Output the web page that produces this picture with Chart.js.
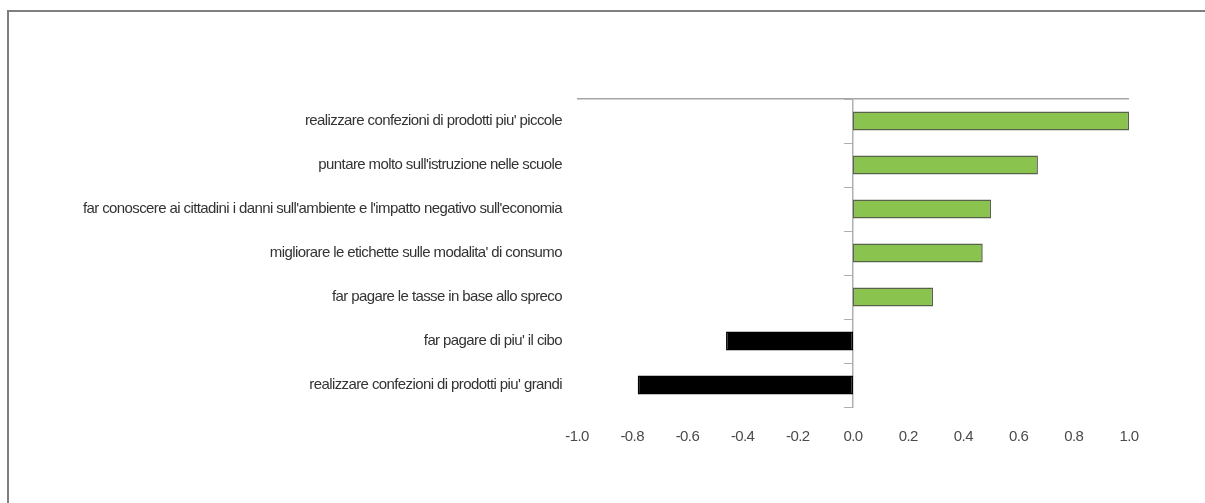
<!DOCTYPE html>
<html>
<head>
<meta charset="utf-8">
<script src="https://cdn.jsdelivr.net/npm/chart.js@4/dist/chart.umd.min.js"></script>
<style>
  html, body { margin: 0; padding: 0; background: #fff; overflow: hidden; }
  #frame { position: absolute; left: 7px; top: 10px; width: 1300px; height: 600px;
           border-top: 2px solid #7f7f7f; border-left: 2px solid #7f7f7f; }
  #wrap { position: absolute; left: 0; top: 0; width: 1205px; height: 503px; }
</style>
</head>
<body>
<div id="frame"></div>
<div id="wrap"><canvas id="chart" width="1205" height="503"></canvas></div>
<script>
// Strategie contro lo spreco alimentare: punteggio medio (-1 … 1)
const categories = [
  "realizzare confezioni di prodotti piu' piccole",
  "puntare molto sull'istruzione nelle scuole",
  "far conoscere ai cittadini i danni sull'ambiente e l'impatto negativo sull'economia",
  "migliorare le etichette sulle modalita' di consumo",
  "far pagare le tasse in base allo spreco",
  "far pagare di piu' il cibo",
  "realizzare confezioni di prodotti piu' grandi"
];
const scores = [1.00, 0.67, 0.50, 0.47, 0.29, -0.46, -0.78];
const xTicks = [-1.0, -0.8, -0.6, -0.4, -0.2, 0.0, 0.2, 0.4, 0.6, 0.8, 1.0];

const green = '#8bc34f';
const greenEdge = '#566349';

// Tight letter spacing for the compact label typeface
const tightText = {
  id: 'tightText',
  beforeUpdate: c => { c.ctx.letterSpacing = '-0.6px'; },
  beforeDraw: c => { c.ctx.letterSpacing = '-0.6px'; }
};

new Chart(document.getElementById('chart'), {
  type: 'bar',
  plugins: [tightText],
  data: {
    labels: categories,
    datasets: [{
      data: scores,
      backgroundColor: scores.map(v => v >= 0 ? green : '#000000'),
      borderColor: scores.map(v => v >= 0 ? greenEdge : '#000000'),
      borderWidth: 1.5,
      borderSkipped: false,
      categoryPercentage: 1,
      barPercentage: 0.43
    }]
  },
  options: {
    indexAxis: 'y',
    responsive: false,
    animation: false,
    layout: { padding: { left: 0, right: 76, top: 99, bottom: 56 } },
    plugins: { legend: { display: false }, tooltip: { enabled: false } },
    scales: {
      x: {
        type: 'linear',
        min: -1, max: 1,
        afterBuildTicks: s => { s.ticks = xTicks.map(v => ({ value: v })); },
        afterFit: s => { s.height = 40; },
        border: { display: false },
        grid: { display: false, drawTicks: false },
        ticks: {
          padding: 21,
          color: '#4a4a4a',
          font: { family: '"Liberation Sans Narrow", "Liberation Sans", sans-serif', size: 15 },
          callback: v => Number(v).toFixed(1)
        }
      },
      y: {
        type: 'category',
        offset: true,
        afterFit: s => { s.width = 577; },
        border: { display: false },
        grid: {
          offset: true,
          drawTicks: false,
          color: c => c.index === 0 ? '#a6a6a6' : 'rgba(0,0,0,0)',
          lineWidth: 1.5
        },
        ticks: {
          padding: 15,
          color: '#333333',
          font: { family: '"Liberation Sans Narrow", "Liberation Sans", sans-serif', size: 15 }
        }
      },
      y2: {
        type: 'category',
        axis: 'y',
        position: { x: 0 },
        offset: true,
        border: { display: true, color: '#b0b0b0', width: 1.5 },
        grid: { offset: true, drawOnChartArea: false, drawTicks: true, tickLength: 8, color: '#b0b0b0' },
        ticks: { display: false }
      }
    }
  }
});
</script>
</body>
</html>
